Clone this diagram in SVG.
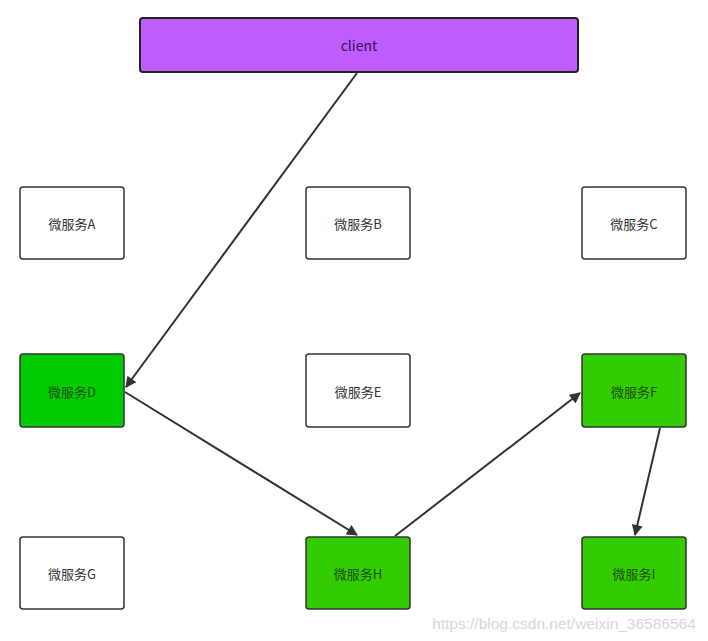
<svg xmlns="http://www.w3.org/2000/svg" width="708" height="641" viewBox="0 0 708 641">
<defs>
<style>
.box{fill:#ffffff;stroke:#333333;stroke-width:1.5}
.g1{fill:#00cc00;stroke:#333333;stroke-width:1.5}
.g2{fill:#33cc00;stroke:#333333;stroke-width:1.5}
.lbl{font-family:"Noto Sans CJK SC","Noto Sans",sans-serif;font-size:13px;fill:#333333;text-anchor:middle;dominant-baseline:central}
.lg{fill:#1f4d12}
.edge{stroke:#333333;stroke-width:2;fill:none;marker-end:url(#arr)}
</style>
<marker id="arr" viewBox="0 0 10 10" refX="9" refY="5" markerWidth="13" markerHeight="11" orient="auto" markerUnits="userSpaceOnUse">
<path d="M0,0 L10,5 L0,10 z" fill="#333333"/>
</marker>
</defs>
<rect width="708" height="641" fill="#ffffff"/>
<g id="client"><rect x="140" y="18" width="438" height="54" rx="3" fill="#bd5cff" stroke="#222222" stroke-width="2"/><text class="lbl" x="359" y="45" style="fill:#3a1050;font-size:14px">client</text></g>
<g id="A"><rect class="box" x="20" y="187" width="104" height="72" rx="3"/><text class="lbl" x="72" y="223">微服务A</text></g>
<g id="B"><rect class="box" x="306" y="187" width="104" height="72" rx="3"/><text class="lbl" x="358" y="223">微服务B</text></g>
<g id="C"><rect class="box" x="582" y="187" width="104" height="72" rx="3"/><text class="lbl" x="634" y="223">微服务C</text></g>
<g id="D"><rect class="g1" x="20" y="354" width="104" height="73" rx="3"/><text class="lbl lg" x="72" y="391">微服务D</text></g>
<g id="E"><rect class="box" x="306" y="354" width="104" height="73" rx="3"/><text class="lbl" x="358" y="391">微服务E</text></g>
<g id="F"><rect class="g2" x="582" y="354" width="104" height="73" rx="3"/><text class="lbl lg" x="634" y="391">微服务F</text></g>
<g id="G"><rect class="box" x="20" y="537" width="104" height="72" rx="3"/><text class="lbl" x="72" y="573">微服务G</text></g>
<g id="H"><rect class="g2" x="306" y="537" width="104" height="72" rx="3"/><text class="lbl lg" x="358" y="573">微服务H</text></g>
<g id="I"><rect class="g2" x="582" y="537" width="104" height="72" rx="3"/><text class="lbl lg" x="634" y="573">微服务I</text></g>
<g id="edges">
<line class="edge" x1="357" y1="73" x2="126" y2="387"/>
<line class="edge" x1="125" y1="392" x2="357" y2="535"/>
<line class="edge" x1="395" y1="536" x2="580" y2="393"/>
<line class="edge" x1="660" y1="428" x2="635" y2="535"/>
</g>
<text x="564" y="623" font-family="'Liberation Sans',Arial,sans-serif" font-size="15.5" fill="#d8d8d8" text-anchor="middle" dominant-baseline="central">https://blog.csdn.net/weixin_36586564</text>
</svg>
